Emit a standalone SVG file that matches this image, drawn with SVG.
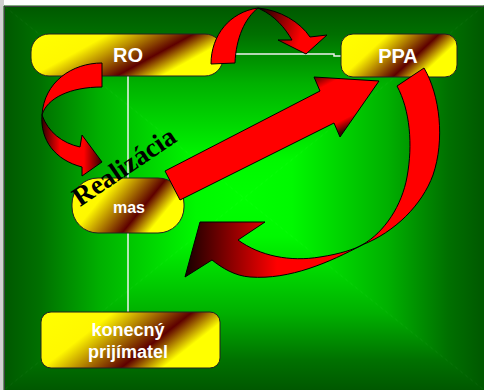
<svg xmlns="http://www.w3.org/2000/svg" width="484" height="390" viewBox="0 0 484 390">
<style>
.node{stroke:#222;stroke-width:1}
.lbl{font-family:"Liberation Sans",Arial,sans-serif;font-weight:bold;fill:#fff;text-anchor:middle}
.conn{fill:none;stroke:#f0f0f0;stroke-width:1.5}
.arr{stroke:#000;stroke-width:1;stroke-linejoin:round}
.bg{stroke-width:1}
</style>
<defs>
<linearGradient id="ng" x1="0" y1="0" x2="1" y2="0.4">
<stop offset="0" stop-color="#ffff00"/>
<stop offset="0.35" stop-color="#fff800"/>
<stop offset="0.73" stop-color="#5e0000"/>
<stop offset="0.93" stop-color="#ffff00"/>
<stop offset="1" stop-color="#ffff00"/>
</linearGradient>
<linearGradient id="bgT" gradientUnits="userSpaceOnUse" x1="244" y1="198" x2="244" y2="6">
<stop offset="0" stop-color="#00ff00"/><stop offset="0.2" stop-color="#00f800"/><stop offset="0.6" stop-color="#00b000"/><stop offset="0.85" stop-color="#007000"/><stop offset="1" stop-color="#005800"/>
</linearGradient>
<linearGradient id="bgB" gradientUnits="userSpaceOnUse" x1="244" y1="198" x2="244" y2="390">
<stop offset="0" stop-color="#00ff00"/><stop offset="0.2" stop-color="#00f800"/><stop offset="0.6" stop-color="#00b000"/><stop offset="0.85" stop-color="#007000"/><stop offset="1" stop-color="#005800"/>
</linearGradient>
<linearGradient id="bgL" gradientUnits="userSpaceOnUse" x1="244" y1="198" x2="4" y2="198">
<stop offset="0" stop-color="#00ff00"/><stop offset="0.2" stop-color="#00f800"/><stop offset="0.6" stop-color="#00b000"/><stop offset="0.85" stop-color="#007000"/><stop offset="1" stop-color="#005800"/>
</linearGradient>
<linearGradient id="bgR" gradientUnits="userSpaceOnUse" x1="244" y1="198" x2="484" y2="198">
<stop offset="0" stop-color="#00ff00"/><stop offset="0.2" stop-color="#00f800"/><stop offset="0.6" stop-color="#00b000"/><stop offset="0.85" stop-color="#007000"/><stop offset="1" stop-color="#005800"/>
</linearGradient>
<linearGradient id="gTop" gradientUnits="userSpaceOnUse" x1="262" y1="12" x2="318" y2="30">
<stop offset="0" stop-color="#200000"/><stop offset="0.75" stop-color="#ff0000"/><stop offset="1" stop-color="#ff0000"/>
</linearGradient>
<linearGradient id="gLeft" gradientUnits="userSpaceOnUse" x1="42" y1="0" x2="102" y2="0">
<stop offset="0" stop-color="#300000"/><stop offset="0.3" stop-color="#ff0000"/><stop offset="0.7" stop-color="#ff0000"/><stop offset="1" stop-color="#300000"/>
</linearGradient>
<linearGradient id="gBig" gradientUnits="userSpaceOnUse" x1="310" y1="70" x2="342" y2="132">
<stop offset="0.08" stop-color="#300000"/><stop offset="0.3" stop-color="#ff0000"/><stop offset="0.85" stop-color="#ff0000"/><stop offset="1" stop-color="#400000"/>
</linearGradient>
<linearGradient id="gLow" gradientUnits="userSpaceOnUse" x1="185" y1="0" x2="300" y2="0">
<stop offset="0" stop-color="#150000"/><stop offset="0.8" stop-color="#ff0000"/><stop offset="1" stop-color="#ff0000"/>
</linearGradient>
</defs>

<g id="background">
<rect x="0" y="0" width="484" height="390" fill="#ffffff"/>
<rect x="0" y="0" width="4" height="390" fill="#d0d0d0"/>
<polygon class="bg" points="4,6 484,6 244,198" fill="url(#bgT)" stroke="url(#bgT)"/>
<polygon class="bg" points="484,6 484,390 244,198" fill="url(#bgR)" stroke="url(#bgR)"/>
<polygon class="bg" points="484,390 4,390 244,198" fill="url(#bgB)" stroke="url(#bgB)"/>
<polygon class="bg" points="4,390 4,6 244,198" fill="url(#bgL)" stroke="url(#bgL)"/>
<polyline points="4.5,390 4.5,6.5 484,6.5" fill="none" stroke="#404040" stroke-width="1"/>
</g>

<g id="connectors">
<line class="conn" x1="128" y1="76" x2="128" y2="312"/>
<polyline class="conn" points="223,54 334,54 334,56 341,56"/>
</g>

<g id="node-RO">
<rect class="node" x="31" y="34" width="192" height="42" rx="18" fill="url(#ng)"/>
<text class="lbl" x="128" y="62" font-size="20">RO</text>
</g>
<g id="node-PPA">
<rect class="node" x="341" y="34" width="116" height="43" rx="12" fill="url(#ng)"/>
<text class="lbl" x="398" y="63" font-size="20">PPA</text>
</g>
<g id="node-mas">
<rect class="node" x="72" y="178" width="112" height="55" rx="26" fill="url(#ng)"/>
<text class="lbl" x="129" y="213" font-size="16">mas</text>
</g>
<g id="node-prijimatel">
<rect class="node" x="41" y="312" width="179" height="56" rx="10" fill="url(#ng)"/>
<text class="lbl" x="128" y="336" font-size="18">konecný</text>
<text class="lbl" x="128" y="358" font-size="18">prijímatel</text>
</g>

<g id="arrows">
<g id="arrow-top">
<path class="arr" fill="#ff0000" d="M 211,64 C 211,35 230,12 258,8 C 245,18 236,38 235,63 Z"/>
<path class="arr" fill="url(#gTop)" d="M 258,8 C 280,10 300,22 310,37 L 327,35 L 306,54 L 278,40 L 292,40 C 285,28 275,16 260,9 Z"/>
</g>
<g id="arrow-left">
<path class="arr" fill="#ff0000" d="M 102,63 C 72,63 44,82 42,115 C 47,98 70,87 102,87 Z"/>
<path class="arr" fill="url(#gLeft)" d="M 42,115 C 40,140 55,160 82,167 L 82,176 L 102,162 L 82,135 L 80,147 C 62,143 48,132 42,115 Z"/>
</g>
<g id="arrow-big">
<path class="arr" fill="url(#gBig)" d="M 165,171 L 320,91 L 314,77 L 379,81 L 340,137 L 334,123 L 180,200 Z"/>
</g>
<g id="arrow-loop">
<path class="arr" fill="#ff0000" d="M 397,86 L 424,68 C 440,95 445,140 433,175 C 422,205 395,232 362,245 C 385,232 402,205 407,177 C 413,145 410,110 397,86 Z"/>
<path class="arr" fill="url(#gLow)" d="M 362,245 C 330,262 290,280 250,277 C 235,276 222,268 212,260 L 185,277 L 200,222 L 265,222 L 238,240 C 260,256 290,262 320,257 C 340,254 355,249 362,245 Z"/>
</g>
</g>

<g id="label-realizacia">
<text x="80" y="207" transform="rotate(-34 80 207)" font-family="'Liberation Serif','Times New Roman',serif" font-weight="bold" font-size="27" fill="#000">Realizácia</text>
</g>
</svg>
